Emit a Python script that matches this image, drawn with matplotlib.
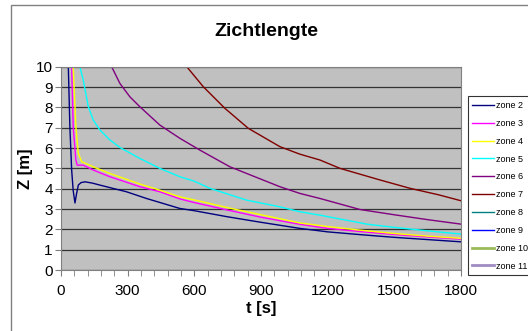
import matplotlib
matplotlib.use("Agg")
import matplotlib.pyplot as plt
from matplotlib.patches import Rectangle
from matplotlib.ticker import MultipleLocator

plt.rcParams['font.family'] = ['Liberation Sans', 'DejaVu Sans']

# t in s, Z in m
zones = ["zone 2", "zone 3", "zone 4", "zone 5", "zone 6",
         "zone 7", "zone 8", "zone 9", "zone 10", "zone 11"]
colors = ["#000080", "#FF00FF", "#FFFF00", "#00FFFF", "#800080",
          "#800000", "#008080", "#0000FF", "#9BBB59", "#A08CC4"]

t2 = [33, 40, 48, 55, 63, 70, 78, 90, 108, 140, 175, 240, 295, 385, 535, 600, 750, 900, 1075, 1200, 1350, 1500, 1650, 1800]
z2 = [10, 7.05, 4.92, 3.9, 3.3, 3.75, 4.18, 4.3, 4.34, 4.28, 4.18, 4.0, 3.85, 3.52, 3.03, 2.92, 2.62, 2.35, 2.05, 1.88, 1.74, 1.61, 1.5, 1.39]

t3 = [48, 55, 67, 73, 100, 145, 220, 355, 445, 535, 600, 750, 900, 1075, 1200, 1350, 1500, 1650, 1800]
z3 = [10, 7.05, 5.41, 5.16, 5.16, 4.92, 4.59, 4.1, 3.85, 3.5, 3.32, 2.95, 2.6, 2.25, 2.05, 1.89, 1.75, 1.63, 1.52]

t4 = [55, 67, 78, 93, 145, 220, 355, 445, 535, 600, 750, 900, 1075, 1200, 1350, 1500, 1650, 1800]
z4 = [10, 7.05, 5.74, 5.33, 5.08, 4.75, 4.23, 3.93, 3.6, 3.45, 3.07, 2.72, 2.32, 2.14, 1.96, 1.8, 1.67, 1.56]

t5 = [85, 100, 123, 145, 175, 220, 265, 355, 445, 535, 600, 670, 835, 985, 1075, 1166, 1376, 1500, 1650, 1800]
z5 = [10, 9.35, 8.03, 7.38, 6.89, 6.4, 6.03, 5.49, 5.0, 4.59, 4.37, 4.02, 3.44, 3.11, 2.87, 2.7, 2.26, 2.1, 1.93, 1.77]

t6 = [228, 265, 310, 355, 445, 535, 625, 760, 985, 1075, 1166, 1345, 1500, 1650, 1800]
z6 = [10, 9.18, 8.52, 8.03, 7.13, 6.48, 5.9, 5.08, 4.1, 3.77, 3.52, 2.98, 2.72, 2.48, 2.26]

t7 = [566, 640, 738, 843, 985, 1075, 1166, 1256, 1436, 1571, 1700, 1800]
z7 = [10, 9.02, 7.95, 6.97, 6.07, 5.7, 5.41, 5.0, 4.43, 4.02, 3.7, 3.41]

# zones 8-11 are in the legend but have no visible line
t_empty = []
z_empty = []

series_t = [t2, t3, t4, t5, t6, t7, t_empty, t_empty, t_empty, t_empty]
series_z = [z2, z3, z4, z5, z6, z7, z_empty, z_empty, z_empty, z_empty]

fig = plt.figure(figsize=(5.28, 3.31), dpi=100)
ax = fig.add_axes([0.1155, 0.184, 0.7575, 0.6145])
ax.set_facecolor("#C0C0C0")

for i in range(len(zones)):
    lw = 2.0 if zones[i] in ("zone 10", "zone 11") else 1.0
    ax.plot(series_t[i], series_z[i], color=colors[i], lw=lw, label=zones[i])

ax.set_xlim(0, 1800)
ax.set_ylim(0, 10)
ax.xaxis.set_major_locator(MultipleLocator(300))
ax.xaxis.set_minor_locator(MultipleLocator(60))
ax.yaxis.set_major_locator(MultipleLocator(1))
ax.grid(axis="y", color="#333333", lw=0.9)
ax.set_axisbelow(True)
for s in ax.spines.values():
    s.set_color("#808080")
ax.tick_params(axis="both", which="both", direction="out", color="#808080", labelsize=11)
ax.tick_params(axis="x", which="major", length=4, pad=6)
ax.tick_params(axis="x", which="minor", length=4)
ax.tick_params(axis="y", length=4, pad=2)

ax.set_xlabel("t [s]", fontsize=12, fontweight="bold", labelpad=2)
ax.set_ylabel("Z [m]", fontsize=12, fontweight="bold", labelpad=2)
fig.text(0.505, 0.905, "Zichtlengte", ha="center", va="center", fontsize=14, fontweight="bold")

leg = fig.legend(loc="upper left", bbox_to_anchor=(0.886, 0.7085), fontsize=6.5,
                 frameon=True, fancybox=False, edgecolor="#000000",
                 labelspacing=0.98, handlelength=2.4, handletextpad=0.2,
                 borderpad=0.5, borderaxespad=0)
leg.get_frame().set_linewidth(0.8)

# outer chart border
fig.add_artist(Rectangle((10.5 / 528, -0.1), 1.2, 1.085, transform=fig.transFigure,
                         fill=False, edgecolor="#808080", lw=1))

fig.savefig("out.png", dpi=100)
